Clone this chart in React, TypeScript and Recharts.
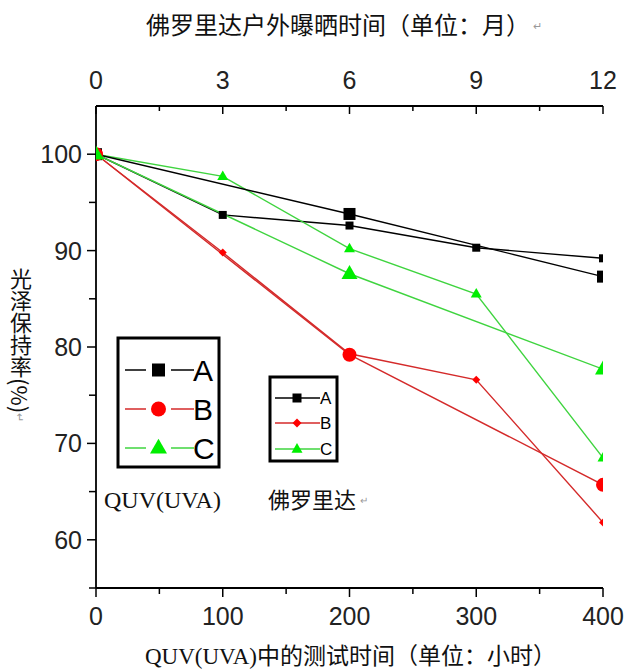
import React from 'react';
import { LineChart, Line, XAxis, YAxis } from 'recharts';

// x positions: hours of QUV test, and Florida exposure months (3 months = 100 h)
const hours = [0, 100, 200, 300, 400];
const months = [0, 3, 6, 9, 12];
const quvHours = [0, 200, 400];

// QUV(UVA) series (big markers)
const quvA = [100, 93.8, 87.3];
const quvB = [100, 79.2, 65.7];
const quvC = [100, 87.6, 77.7];

// Florida outdoor series (small markers)
const floridaA = [100, 93.7, 92.6, 90.3, 89.2];
const floridaB = [100, 89.8, 79.3, 76.6, 61.8];
const floridaC = [100, 97.7, 90.2, 85.5, 68.5];

const hourTicks = [0, 50, 100, 150, 200, 250, 300, 350, 400];
const hourLabels = [0, 100, 200, 300, 400];
const monthTicks = [0, 1.5, 3, 4.5, 6, 7.5, 9, 10.5, 12];
const monthLabels = [0, 3, 6, 9, 12];
const yTicks = [55, 60, 65, 70, 75, 80, 85, 90, 95, 100];
const yLabels = [60, 70, 80, 90, 100];

const seriesNames = ['A', 'B', 'C'];

const rows = hours.map((h, i) => {
  const q = quvHours.indexOf(h);
  return {
    h,
    m: months[i],
    fA: floridaA[i],
    fB: floridaB[i],
    fC: floridaC[i],
    qA: q >= 0 ? quvA[q] : null,
    qB: q >= 0 ? quvB[q] : null,
    qC: q >= 0 ? quvC[q] : null,
  };
});

const BLACK = '#000000';
const RED_LINE = '#d42a2a';
const RED = '#ff0000';
const GREEN_LINE = '#3fd43f';
const GREEN = '#00ee00';

const NUM_FONT = '"Liberation Sans", Arial, sans-serif';
const CJK_FONT = '"Noto Sans CJK SC", sans-serif';
const SERIF_FONT = '"Liberation Serif", "Times New Roman", serif';

function marker(shape: string, cx: number, cy: number, s: number, fill: string, key?: any) {
  if (shape === 'square') {
    return <rect key={key} x={cx - s / 2} y={cy - s / 2} width={s} height={s} fill={fill} />;
  }
  if (shape === 'circle') {
    return <circle key={key} cx={cx} cy={cy} r={s / 2} fill={fill} />;
  }
  if (shape === 'triangle') {
    const h = s * 0.87;
    return (
      <polygon
        key={key}
        points={`${cx},${cy - h * 0.62} ${cx - s / 2},${cy + h * 0.38} ${cx + s / 2},${cy + h * 0.38}`}
        fill={fill}
      />
    );
  }
  // diamond
  return (
    <polygon
      key={key}
      points={`${cx},${cy - s / 2} ${cx + s / 2},${cy} ${cx},${cy + s / 2} ${cx - s / 2},${cy}`}
      fill={fill}
    />
  );
}

const dotOf = (shape: string, s: number, fill: string) => (props: any) => {
  const { cx, cy, index, value } = props;
  if (value == null || cy == null || cx == null) return <g key={`e-${index}`} />;
  return marker(shape, cx, cy, s, fill, `d-${index}`);
};

const HourTick = (props: any) => {
  const { x, y, payload } = props;
  const major = hourLabels.includes(payload.value);
  return (
    <g>
      <line x1={x} y1={y} x2={x} y2={y + (major ? 9 : 6)} stroke={BLACK} strokeWidth={1.5} />
      {major && (
        <text x={x} y={y + 37} textAnchor="middle" fontSize={25} fontFamily={NUM_FONT} fill="#222">
          {payload.value}
        </text>
      )}
    </g>
  );
};

const MonthTick = (props: any) => {
  const { x, y, payload } = props;
  const major = monthLabels.includes(payload.value);
  return (
    <g>
      <line x1={x} y1={y} x2={x} y2={y + (major ? 8 : 5)} stroke={BLACK} strokeWidth={1.5} />
      {major && (
        <text x={x} y={y - 17} textAnchor="middle" fontSize={25} fontFamily={NUM_FONT} fill="#222">
          {payload.value}
        </text>
      )}
    </g>
  );
};

const ValueTick = (props: any) => {
  const { x, y, payload } = props;
  const major = yLabels.includes(payload.value);
  return (
    <g>
      <line x1={x} y1={y} x2={x - (major ? 9 : 7)} y2={y} stroke={BLACK} strokeWidth={1.5} />
      {major && (
        <text x={x - 14} y={y + 9} textAnchor="end" fontSize={25} fontFamily={NUM_FONT} fill="#222">
          {payload.value}
        </text>
      )}
    </g>
  );
};

const bigShapes = ['square', 'circle', 'triangle'];
const smallShapes = ['square', 'diamond', 'triangle'];
const lineColors = [BLACK, RED_LINE, GREEN_LINE];
const markColors = [BLACK, RED, GREEN];

export default function App() {
  return (
    <div style={{ position: 'absolute', left: 0, top: 0, width: 626, height: 671, background: '#fff' }}>
      <LineChart width={626} height={671} data={rows} margin={{ top: 0, right: 23, bottom: 0, left: 0 }}>
        <XAxis
          xAxisId="bottom"
          dataKey="h"
          type="number"
          orientation="bottom"
          domain={[0, 400]}
          ticks={hourTicks}
          interval={0}
          allowDataOverflow
          height={83}
          tickSize={0}
          tickMargin={0}
          tickLine={false}
          tick={<HourTick />}
          axisLine={{ stroke: BLACK, strokeWidth: 1.8 }}
        />
        <XAxis
          xAxisId="top"
          dataKey="m"
          type="number"
          orientation="top"
          domain={[0, 12]}
          ticks={monthTicks}
          interval={0}
          allowDataOverflow
          height={106}
          tickSize={0}
          tickMargin={0}
          tickLine={false}
          tick={<MonthTick />}
          axisLine={{ stroke: BLACK, strokeWidth: 1.8 }}
        />
        <YAxis
          yAxisId="left"
          type="number"
          domain={[55, 105]}
          ticks={yTicks}
          interval={0}
          allowDataOverflow
          width={96}
          tickSize={0}
          tickMargin={0}
          tickLine={false}
          tick={<ValueTick />}
          axisLine={{ stroke: BLACK, strokeWidth: 1.8 }}
        />
        <YAxis
          yAxisId="right"
          orientation="right"
          type="number"
          domain={[55, 105]}
          allowDataOverflow
          width={0}
          tick={false}
          tickLine={false}
          axisLine={{ stroke: BLACK, strokeWidth: 1.8 }}
        />
        {/* invisible series tying the month axis to the Florida x values */}
        <Line
          xAxisId="top"
          yAxisId="right"
          dataKey="fA"
          stroke="none"
          dot={false}
          activeDot={false}
          isAnimationActive={false}
        />
        {(['fA', 'fB', 'fC'] as const).map((k, i) => (
          <Line
            key={k}
            xAxisId="bottom"
            yAxisId="left"
            dataKey={k}
            type="linear"
            stroke={lineColors[i]}
            strokeWidth={1.4}
            dot={dotOf(smallShapes[i], i === 2 ? 11 : 8, markColors[i])}
            activeDot={false}
            isAnimationActive={false}
          />
        ))}
        {(['qA', 'qB', 'qC'] as const).map((k, i) => (
          <Line
            key={k}
            xAxisId="bottom"
            yAxisId="left"
            dataKey={k}
            type="linear"
            connectNulls
            stroke={lineColors[i]}
            strokeWidth={1.4}
            dot={dotOf(bigShapes[i], i === 0 ? 12 : i === 1 ? 14 : 16, markColors[i])}
            activeDot={false}
            isAnimationActive={false}
          />
        ))}
      </LineChart>

      <svg
        width={626}
        height={671}
        style={{ position: 'absolute', left: 0, top: 0, pointerEvents: 'none' }}
      >
        {/* top title */}
        <text x={146} y={34} fontSize={24} fontFamily={CJK_FONT} fill="#111">
          佛罗里达户外曝晒时间（单位：月）
        </text>
        <text x={533} y={30} fontSize={11} fontFamily={CJK_FONT} fill="#999">↵</text>

        {/* bottom title */}
        <text x={145} y={664} fontFamily={SERIF_FONT} fontSize={23} fill="#111">
          QUV(UVA)
          <tspan fontFamily={CJK_FONT} fontSize={23}>中的测试时间（单位：小时）</tspan>
        </text>

        {/* big legend (QUV) */}
        <rect x={118} y={338} width={101} height={129} fill="#fff" stroke={BLACK} strokeWidth={3} />
        {seriesNames.map((n, i) => {
          const cy = [370, 409, 448][i];
          return (
            <g key={`bl-${n}`}>
              <line x1={125} y1={cy} x2={146} y2={cy} stroke={lineColors[i]} strokeWidth={1.5} />
              <line x1={171} y1={cy} x2={194} y2={cy} stroke={lineColors[i]} strokeWidth={1.5} />
              {marker(bigShapes[i], 158.5, cy, i === 0 ? 13 : i === 1 ? 15 : 17, markColors[i])}
              <text x={193} y={cy + 11} fontSize={30} fontFamily={NUM_FONT} fill="#000">{n}</text>
            </g>
          );
        })}

        {/* small legend (Florida) */}
        <rect x={270} y={377} width={67} height={84} fill="#fff" stroke={BLACK} strokeWidth={3} />
        {seriesNames.map((n, i) => {
          const cy = [398, 423, 449][i];
          return (
            <g key={`sl-${n}`}>
              <line x1={275} y1={cy} x2={320} y2={cy} stroke={lineColors[i]} strokeWidth={1.4} />
              {marker(smallShapes[i], 297, cy, i === 2 ? 11 : 9, markColors[i])}
              <text x={320} y={cy + 6} fontSize={17} fontFamily={NUM_FONT} fill="#000">{n}</text>
            </g>
          );
        })}

        <text x={104} y={508} fontSize={24} fontFamily={SERIF_FONT} fill="#111">QUV(UVA)</text>
        <text x={268} y={508} fontSize={22} fontFamily={CJK_FONT} fill="#111">佛罗里达</text>
        <text x={360} y={504} fontSize={10} fontFamily={CJK_FONT} fill="#999">↵</text>
      </svg>

      <div
        style={{
          position: 'absolute',
          left: 9,
          top: 268,
          writingMode: 'vertical-rl',
          fontSize: 22,
          lineHeight: '24px',
          fontFamily: CJK_FONT,
          color: '#111',
        }}
      >
        光泽保持率(%)<span style={{ fontSize: 11, color: '#999' }}>↵</span>
      </div>
    </div>
  );
}
